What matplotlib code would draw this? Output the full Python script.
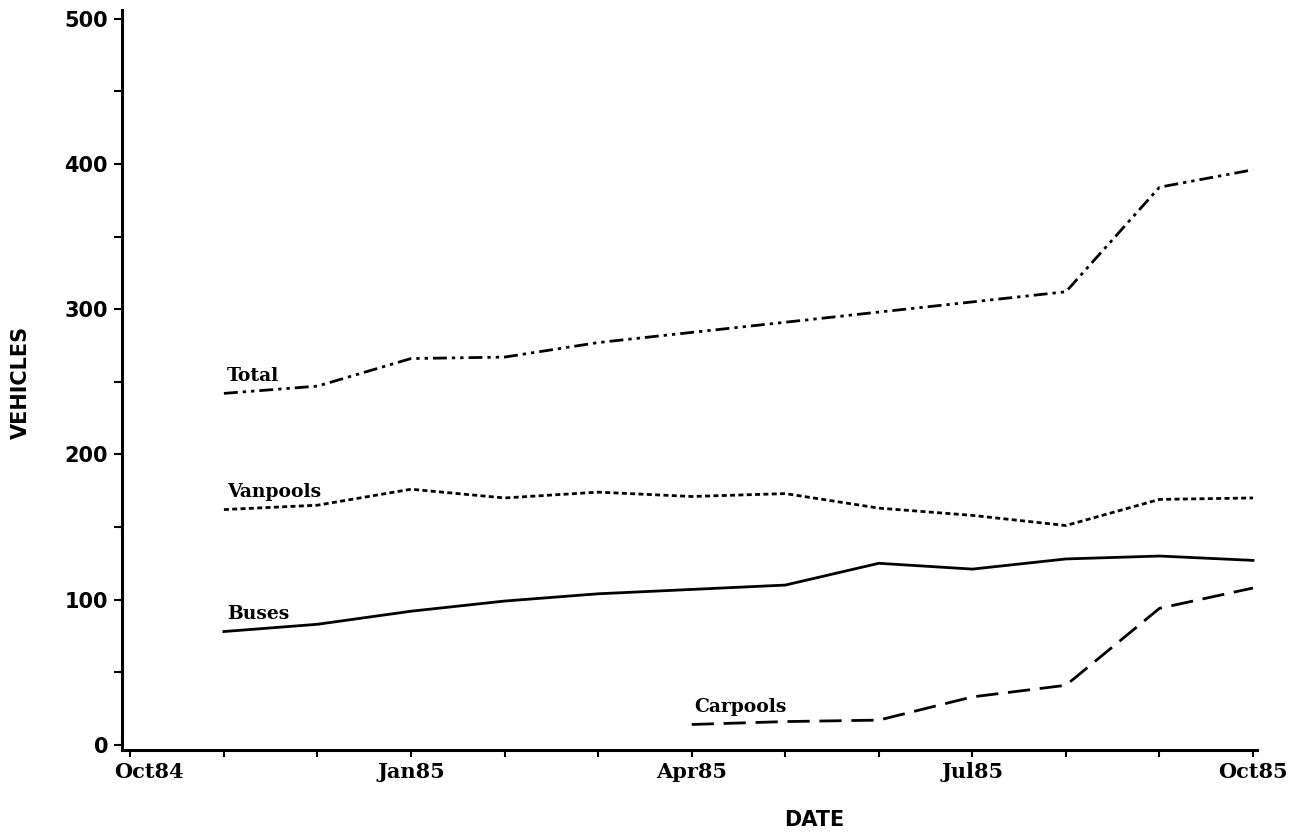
'''
Vehicles by type, Oct84 - Oct85
'''
import numpy as np
import matplotlib
matplotlib.use('Agg')
import matplotlib.pyplot as plt
from matplotlib.transforms import ScaledTranslation

# Data (monthly, Nov84 .. Oct85)
months = ['Nov84', 'Dec84', 'Jan85', 'Feb85', 'Mar85', 'Apr85',
          'May85', 'Jun85', 'Jul85', 'Aug85', 'Sep85', 'Oct85']
total = [242, 247, 266, 267, 277, 284, 291, 298, 305, 312, 384, 396]
vanpools = [162, 165, 176, 170, 174, 171, 173, 163, 158, 151, 169, 170]
buses = [78, 83, 92, 99, 104, 107, 110, 125, 121, 128, 130, 127]
carpools = [np.nan, np.nan, np.nan, np.nan, np.nan, 14, 16, 17, 33, 41, 94, 108]

tick_labels = ['Oct84', '', '', 'Jan85', '', '', 'Apr85', '', '', 'Jul85', '', '', 'Oct85']

x = np.arange(1, len(months) + 1)

fig = plt.figure(figsize=(12.97, 8.36), dpi=100)
ax = fig.add_axes([0.094, 0.103, 0.875, 0.885])

lw = 2.0
ax.plot(x, total, color='black', lw=lw, dashes=(5, 1.8, 1.2, 1.8, 1.2, 1.8))
ax.plot(x, vanpools, color='black', lw=lw, dashes=(1.8, 1.2))
ax.plot(x, buses, color='black', lw=lw)
ax.plot(x, carpools, color='black', lw=lw, dashes=(8, 3.5))

# inline series labels at the start of each line
lab_font = dict(family='DejaVu Serif', weight='bold', fontsize=13.5)
for name, ys in [('Total', total), ('Vanpools', vanpools),
                 ('Buses', buses), ('Carpools', carpools)]:
    i = int(np.where(~np.isnan(np.array(ys, dtype=float)))[0][0])
    ax.annotate(name, (x[i], ys[i]), xytext=(2, 6), textcoords='offset points',
                ha='left', va='bottom', **lab_font)

ax.set_xlim(-0.09, 12.04)
ax.set_ylim(-3.5, 506)

ax.set_xticks(np.arange(0, 13))
ax.set_xticklabels(tick_labels, family='DejaVu Serif', weight='bold', fontsize=15)
ax.set_yticks(np.arange(0, 501, 50))
ax.set_yticklabels([str(v) if v % 100 == 0 else '' for v in range(0, 501, 50)],
                   family='DejaVu Sans', weight='bold', fontsize=15)

ax.tick_params(axis='y', direction='out', length=6, width=1.5, pad=4)
ax.tick_params(axis='x', direction='out', length=5, width=1.5, pad=4)

# first date label sits a little to the right of its tick
first = ax.get_xticklabels()[0]
first.set_transform(first.get_transform() + ScaledTranslation(0.19, 0, fig.dpi_scale_trans))

for side in ['top', 'right']:
    ax.spines[side].set_visible(False)
for side in ['left', 'bottom']:
    ax.spines[side].set_linewidth(2.2)

# axis titles
fig.text(814 / 1297, 1 - 820 / 836, 'DATE', ha='center', va='center',
         family='DejaVu Sans', weight='bold', fontsize=15)
fig.text(21 / 1297, 1 - 382 / 836, 'VEHICLES', ha='center', va='center',
         rotation=90, family='DejaVu Sans', weight='bold', fontsize=15)

plt.savefig('out.png', dpi=100)
